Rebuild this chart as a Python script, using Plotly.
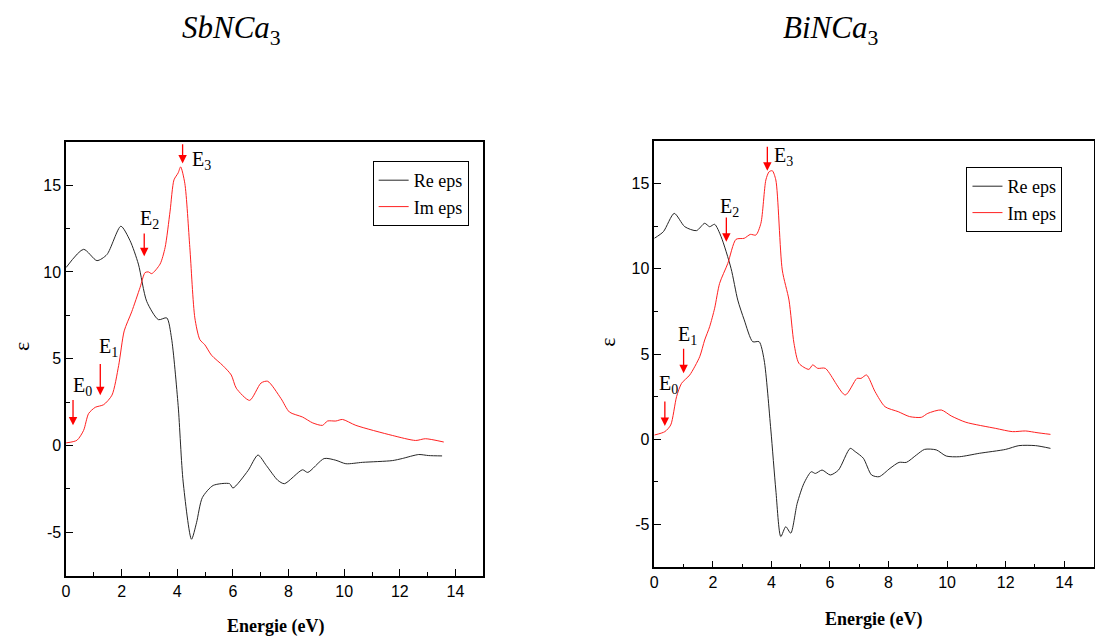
import plotly.graph_objects as go

# ---------------- data ----------------
# SbNCa3
sb_re_x = [0, 0.63, 1.11, 1.47, 1.97, 2.3, 2.6, 2.9, 3.32, 3.62, 3.79, 4.03, 4.21, 4.51, 4.69, 4.9, 5.29,
           5.88, 6.0, 6.54, 6.9, 7.2, 7.61, 7.85, 8.5, 8.69, 9.28, 9.7, 10.06, 10.66, 11.73, 12.09, 12.68, 13.04, 13.52]
sb_re_y = [10.25, 11.3, 10.65, 11.0, 12.63, 11.8, 10.45, 8.3, 7.25, 7.35, 6.2, 2.3, -2.1, -5.4, -4.45, -3.0, -2.3,
           -2.2, -2.45, -1.45, -0.55, -1.15, -2.0, -2.2, -1.4, -1.55, -0.75, -0.85, -1.05, -0.97, -0.87, -0.75, -0.52, -0.58, -0.6]
sb_im_x = [0, 0.39, 0.63, 0.81, 1.05, 1.35, 1.65, 1.89, 2.09, 2.36, 2.66, 2.84, 2.96, 3.08, 3.38, 3.56, 3.74, 3.88,
           4.03, 4.12, 4.27, 4.45, 4.63, 4.81, 4.99, 5.23, 5.64, 5.94, 6.12, 6.6, 7.01, 7.25, 7.73, 8.03, 8.5, 8.87,
           9.22, 9.4, 9.7, 9.94, 10.42, 11.73, 12.57, 12.92, 13.58]
sb_im_y = [0.15, 0.3, 0.87, 1.84, 2.2, 2.35, 2.9, 4.6, 6.6, 7.7, 9.1, 9.96, 10.0, 9.9, 10.45, 11.4, 13.5, 15.3,
           15.7, 16.05, 15.1, 11.4, 7.35, 6.1, 5.8, 5.2, 4.6, 4.06, 3.3, 2.6, 3.6, 3.7, 2.7, 1.93, 1.64, 1.3,
           1.16, 1.41, 1.41, 1.5, 1.16, 0.58, 0.29, 0.39, 0.2]

# BiNCa3
bi_re_x = [0, 0.31, 0.68, 1.04, 1.44, 1.72, 1.89, 2.06, 2.28, 2.62, 2.85, 3.07, 3.36, 3.58, 3.75, 3.98, 4.15, 4.32,
           4.49, 4.66, 4.88, 5.11, 5.36, 5.5, 5.73, 6.01, 6.29, 6.69, 6.86, 7.14, 7.42, 7.68, 8.05, 8.36, 8.61, 8.95,
           9.23, 9.63, 9.97, 10.42, 11.1, 12.0, 12.45, 13.02, 13.53]
bi_re_y = [11.78, 12.17, 13.24, 12.46, 12.23, 12.66, 12.46, 12.6, 11.88, 10.02, 8.16, 7.0, 5.72, 5.72, 4.65, 0.55, -2.97, -5.7,
           -5.12, -5.5, -3.75, -2.58, -1.9, -2.0, -1.8, -2.09, -1.8, -0.53, -0.72, -1.11, -2.09, -2.19, -1.7, -1.35, -1.35, -0.92,
           -0.59, -0.62, -0.98, -1.02, -0.82, -0.59, -0.37, -0.37, -0.53]
bi_im_x = [0, 0.36, 0.56, 0.76, 0.93, 1.21, 1.55, 1.72, 1.89, 2.06, 2.23, 2.51, 2.79, 3.07, 3.28, 3.47, 3.64, 3.81,
           3.92, 4.03, 4.15, 4.37, 4.6, 4.77, 4.94, 5.28, 5.41, 5.58, 5.84, 6.52, 6.92, 7.06, 7.25, 7.54, 7.88, 8.33,
           8.72, 9.12, 9.34, 9.8, 10.14, 10.64, 11.66, 12.23, 12.68, 13.07, 13.53]
bi_im_y = [0.25, 0.45, 0.84, 2.5, 3.28, 3.77, 4.84, 5.82, 6.6, 7.68, 9.14, 10.31, 11.72, 11.78, 12.01, 11.97, 12.66, 15.2,
           15.68, 15.74, 15.2, 9.92, 8.16, 5.63, 4.45, 4.1, 4.36, 4.16, 4.16, 2.6, 3.57, 3.57, 3.77, 2.79, 1.91, 1.62,
           1.33, 1.29, 1.52, 1.72, 1.37, 1.0, 0.64, 0.45, 0.49, 0.39, 0.29]

titles = ["<i>SbNCa</i><sub>3</sub>", "<i>BiNCa</i><sub>3</sub>"]
y_tick_vals = [-5, 0, 5, 10, 15]
y_tick_text = ["-5", "0", "5", "10", "15"]
# transition labels: (arrow x, arrow tail y, arrow head y, label x, label y)
sb_marks = [(0.25, 2.71, 1.16, 0.59, 3.39), (1.23, 4.78, 2.9, 1.53, 5.62),
            (2.81, 12.3, 10.9, 3.0, 13.0), (4.19, 17.44, 16.24, 4.86, 16.4)]
bi_marks = [(0.36, 2.3, 0.78, 0.5, 3.24), (1.0, 5.39, 3.87, 1.12, 6.11),
            (2.46, 13.08, 11.58, 2.58, 13.6), (3.86, 17.24, 15.74, 4.42, 16.6)]

BLACK = "#262626"
RED = "#ff2020"
SERIF = "Liberation Serif"
SANS = "Liberation Sans"

fig = go.Figure()
fig.add_trace(go.Scatter(x=sb_re_x, y=sb_re_y, mode="lines", name="Re eps", xaxis="x", yaxis="y",
                         line=dict(color=BLACK, width=1, shape="spline", smoothing=0.7), legend="legend"))
fig.add_trace(go.Scatter(x=sb_im_x, y=sb_im_y, mode="lines", name="Im eps", xaxis="x", yaxis="y",
                         line=dict(color=RED, width=1, shape="spline", smoothing=0.7), legend="legend"))
fig.add_trace(go.Scatter(x=bi_re_x, y=bi_re_y, mode="lines", name="Re eps", xaxis="x2", yaxis="y2",
                         line=dict(color=BLACK, width=1, shape="spline", smoothing=0.7), legend="legend2"))
fig.add_trace(go.Scatter(x=bi_im_x, y=bi_im_y, mode="lines", name="Im eps", xaxis="x2", yaxis="y2",
                         line=dict(color=RED, width=1, shape="spline", smoothing=0.7), legend="legend2"))

W, H = 1095, 640


def xax(domain, anchor):
    return dict(domain=domain, anchor=anchor, range=[0, 15], dtick=2, tick0=0,
                showline=True, mirror=True, linecolor="black", linewidth=1.5,
                ticks="inside", ticklen=7, tickwidth=1, tickcolor="black",
                minor=dict(ticks="inside", ticklen=4, tickwidth=1, tickcolor="black", dtick=1),
                showgrid=False, zeroline=False,
                tickfont=dict(family=SANS, size=16, color="black"))


def yax(domain, anchor):
    return dict(domain=domain, anchor=anchor, range=[-7.5, 17.5],
                tickmode="array", tickvals=y_tick_vals, ticktext=y_tick_text,
                showline=True, mirror=True, linecolor="black", linewidth=1.5,
                ticks="inside", ticklen=7, tickwidth=1, tickcolor="black",
                minor=dict(ticks="inside", ticklen=4, tickwidth=1, tickcolor="black",
                           tickmode="linear", tick0=0, dtick=2.5),
                showgrid=False, zeroline=False,
                tickfont=dict(family=SANS, size=16, color="black"))


legend_common = dict(bordercolor="black", borderwidth=1, bgcolor="white",
                     font=dict(family=SERIF, size=18, color="black"),
                     xanchor="left", yanchor="top", tracegroupgap=0)

fig.update_layout(
    width=W, height=H, margin=dict(l=0, r=0, t=0, b=0),
    paper_bgcolor="white", plot_bgcolor="white",
    xaxis=xax([62.3 / W, 481 / W], "y"),
    yaxis=yax([1 - 575.7 / H, 1 - 141.7 / H], "x"),
    xaxis2=xax([652.7 / W, 1093.5 / W], "y2"),
    yaxis2=yax([1 - 567.3 / H, 1 - 140.7 / H], "x2"),
    legend=dict(x=370 / W, y=1 - 161 / H, **legend_common),
    legend2=dict(x=966 / W, y=1 - 167 / H, **legend_common),
    showlegend=True,
)

ann = []
# titles
for t, cx in zip(titles, [228, 830]):
    ann.append(dict(text=t, x=cx / W, y=1 - 30 / H, xref="paper", yref="paper",
                    showarrow=False, xanchor="center", yanchor="middle",
                    font=dict(family=SERIF, size=31, color="black")))
# axis titles
for cx, cy in [(272, 626), (873, 619)]:
    ann.append(dict(text="<b>Energie (eV)</b>", x=cx / W, y=1 - cy / H, xref="paper", yref="paper",
                    showarrow=False, xanchor="center", yanchor="middle",
                    font=dict(family=SERIF, size=18, color="black")))
for cx, cy in [(17, 346), (605, 342)]:
    ann.append(dict(text="ε", x=cx / W, y=1 - cy / H, xref="paper", yref="paper", textangle=-90,
                    showarrow=False, xanchor="center", yanchor="middle",
                    font=dict(family=SERIF, size=22, color="black")))

# transition arrows and labels
for marks, xr, yr in [(sb_marks, "x", "y"), (bi_marks, "x2", "y2")]:
    for i, (axx, ty, hy, lx, ly) in enumerate(marks):
        ann.append(dict(x=axx, y=hy, ax=axx, ay=ty, xref=xr, yref=yr, axref=xr, ayref=yr,
                        text="", showarrow=True, arrowhead=2, arrowsize=1.3, arrowwidth=1.3,
                        arrowcolor="red"))
        ann.append(dict(x=lx, y=ly, xref=xr, yref=yr, text="E<sub>%d</sub>" % i, showarrow=False,
                        xanchor="center", yanchor="middle",
                        font=dict(family=SERIF, size=20, color="black")))

fig.update_layout(annotations=ann)
fig.write_html("out.html")
